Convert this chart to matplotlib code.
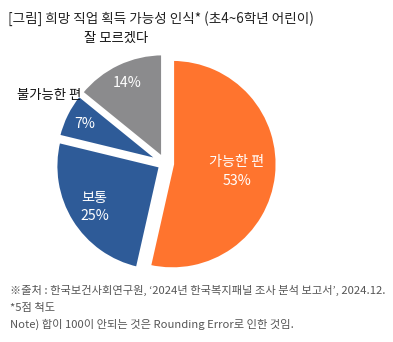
import numpy as np
import matplotlib
matplotlib.use('Agg')
from matplotlib import pyplot as plt

plt.rcParams['font.family'] = ['Noto Sans CJK KR', 'DejaVu Sans']

labels = ['가능한 편', '보통', '불가능한 편', '잘 모르겠다']
values = [53, 25, 7, 14]
colors = ['#FF742E', '#2E5B98', '#2E5B98', '#8B8B8D']
inside_name = [True, True, False, False]

title = '[그림] 희망 직업 획득 가능성 인식* (초4~6학년 어린이)'
notes = ['※출처 : 한국보건사회연구원, \u20182024년 한국복지패널 조사 분석 보고서\u2019, 2024.12.',
         '*5점 척도',
         'Note) 합이 100이 안되는 것은 Rounding Error로 인한 것임.']

fig = plt.figure(figsize=(3.93, 3.42), dpi=100)
fig.text(0.02, 0.933, title, fontsize=9.8, color='#222222')
for i, n in enumerate(notes):
    fig.text(0.025, 0.14 - i * 0.05, n, fontsize=8.1, color='#555555')

ax = fig.add_axes([0.126, 0.185, 0.588, 0.675])
wedges, _ = ax.pie(values, colors=colors, startangle=90, counterclock=False,
                   explode=[0.07, 0.05, 0.05, 0.05],
                   wedgeprops=dict(edgecolor='white', linewidth=2.5))
for w, lab, v, inside in zip(wedges, labels, values, inside_name):
    mid = np.deg2rad((w.theta1 + w.theta2) / 2)
    cx, cy = w.center
    if inside:
        r = 0.62 if v > 50 else 0.74
        ax.text(cx + r * np.cos(mid), cy + r * np.sin(mid), f'{lab}\n{v}%',
                ha='center', va='center', color='white', fontsize=10.2,
                linespacing=1.45)
    else:
        r = 0.8
        ax.text(cx + r * np.cos(mid), cy + r * np.sin(mid), f'{v}%',
                ha='center', va='center', color='white', fontsize=10.2)
        r = 1.28
        a = mid - np.deg2rad(4)
        ax.text(r * np.cos(a), r * np.sin(a), lab,
                ha='center', va='center', color='#111111', fontsize=9.6)
ax.set_xlim(-1.1, 1.1)
ax.set_ylim(-1.1, 1.1)
ax.set_aspect('equal')
ax.axis('off')

fig.savefig('out.png', dpi=100)
